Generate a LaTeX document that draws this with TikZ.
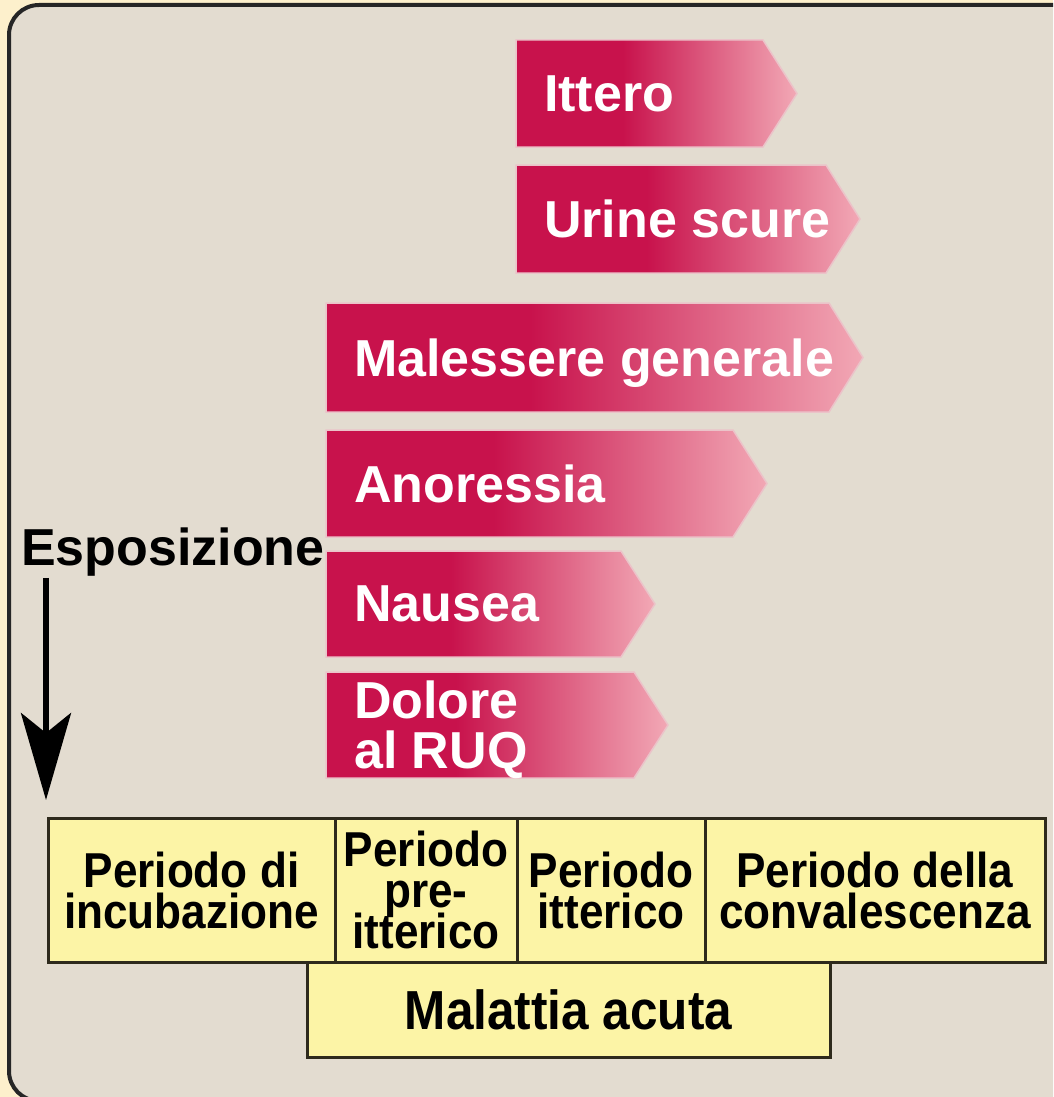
\documentclass[tikz,border=0pt]{standalone}
\usepackage{fontspec}
\setmainfont{Liberation Sans}
\newfontfamily\cellfont[FakeStretch=0.9]{Liberation Sans}
\usetikzlibrary{arrows.meta}

\definecolor{outerbg}{HTML}{FDF0CC}
\definecolor{panelbg}{HTML}{E3DCD0}
\definecolor{symred}{HTML}{C8124C}
\definecolor{sympink}{HTML}{F2A8B5}
\definecolor{symglow}{HTML}{EBC3C9}
\definecolor{cellyellow}{HTML}{FCF4A6}
\definecolor{celledge}{HTML}{2E2A1C}
\pgfdeclarehorizontalshading{symfade}{100bp}{color(0bp)=(symred); color(25bp)=(symred); color(44bp)=(symred); color(75bp)=(sympink); color(100bp)=(sympink)}

\tikzset{
  symbar/.style={shading=symfade, draw=symglow, line width=1.5pt},
  symtext/.style={text=white, font=\fontsize{52}{50}\selectfont\bfseries, align=left,
    inner sep=0pt, text depth=0pt, anchor=west},
  period/.style={draw=celledge, fill=cellyellow, line width=3pt, align=center,
    inner sep=0pt, outer sep=0pt, minimum height=144pt,
    font=\cellfont\fontsize{49}{41}\selectfont\bfseries},
}

% symptom bar: name, left, top, right of body, bottom, text
\newcommand{\symptom}[6]{%
  \path[symbar] (#2,#3) -- (#4,#3) -- ({#4+34},{(#3+#5)/2}) -- (#4,#5) -- (#2,#5) -- cycle;
  \node[symtext] (#1) at ({#2+28},{(#3+#5)/2}) {#6};
}

\begin{document}
\lineskiplimit=-100pt
\begin{tikzpicture}[x=1pt, y=-1pt]
    \useasboundingbox (0,0) rectangle (1053,1097);
    \clip (0,0) rectangle (1053,1097);

    % Background and panel
    \fill[outerbg] (0,0) rectangle (1053,1097);
    \draw[fill=panelbg, draw=black!85, line width=4pt, rounded corners=30pt] (9,5) rectangle (1090,1101);

    % Symptoms
    \symptom{ittero}{516}{40}{763}{147}{Ittero}
    \symptom{urine}{516}{165}{826}{273}{Urine scure}
    \symptom{malessere}{326}{303}{829}{412}{Malessere generale}
    \symptom{anoressia}{326}{430}{733}{537}{Anoressia}
    \symptom{nausea}{326}{551}{621}{657}{Nausea}
    \symptom{dolore}{326}{672}{634}{778}{Dolore\\al RUQ}

    % Exposure
    \node[anchor=base west, inner sep=0pt, font=\fontsize{52}{52}\selectfont\bfseries] (expo) at (21,565) {Esposizione};
    \coordinate (expotip) at (46,800);
    \draw[line width=5.5pt, -{Stealth[length=87pt, width=50pt, inset=20pt]}] ([yshift=-2pt]expo.south -| expotip) -- (expotip);

    % Periods
    \node[period, minimum width=287pt] (incub) at (191.5,890) {Periodo di\\incubazione};
    \node[period, minimum width=182pt, anchor=west] (preitt) at (incub.east) {Periodo\\pre-\\itterico};
    \node[period, minimum width=188pt, anchor=west] (itter) at (preitt.east) {Periodo\\itterico};
    \node[period, minimum width=340pt, anchor=west] (conval) at (itter.east) {Periodo della\\convalescenza};
    \node[period, minimum width=523pt, minimum height=95pt, anchor=north,
          font=\cellfont\fontsize{55}{55}\selectfont\bfseries] (acuta) at (568.5,962) {Malattia acuta};
\end{tikzpicture}
\end{document}
